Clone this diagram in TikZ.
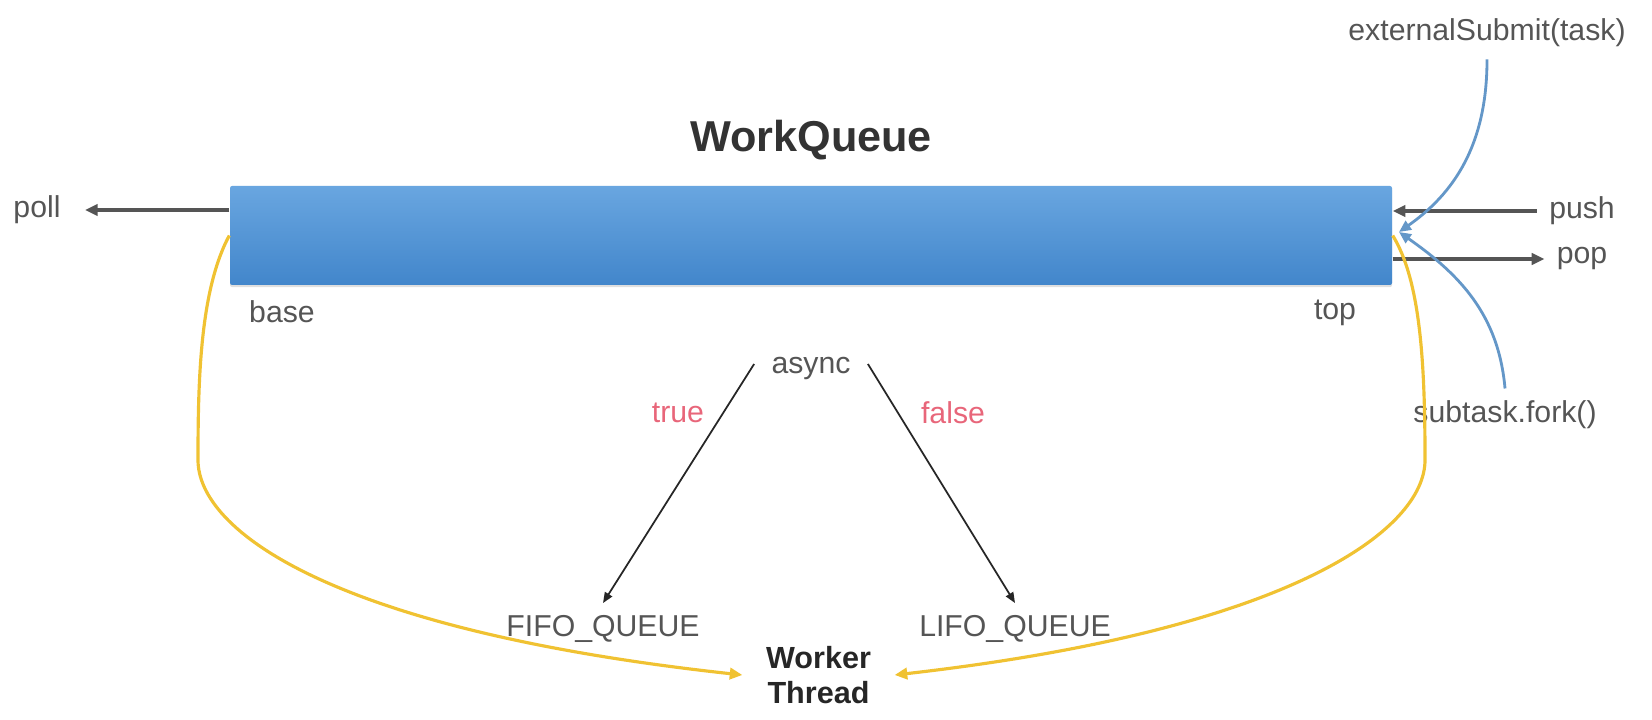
\documentclass[tikz,border=0pt]{standalone}
\usepackage{fontspec}
\setmainfont{Liberation Sans}
\usetikzlibrary{arrows.meta,shadows}

\definecolor{qtop}{HTML}{69A6E0}
\definecolor{qbot}{HTML}{4286CB}
\definecolor{lblgray}{HTML}{555555}
\definecolor{callblue}{HTML}{6497C8}
\definecolor{thryellow}{HTML}{F0C232}
\definecolor{flagred}{HTML}{E8667A}

\begin{document}
\begin{tikzpicture}[
		lbl/.style={text=lblgray,font=\fontsize{8.6}{10}\selectfont},
		flag/.style={text=flagred,font=\fontsize{8.6}{10}\selectfont},
		queue/.style={minimum width=11.62cm,minimum height=0.99cm,inner sep=0pt,
			top color=qtop,bottom color=qbot,rounded corners=0.6pt,
			drop shadow={shadow xshift=0pt,shadow yshift=-0.6pt,opacity=0.25}},
		op/.style={-{Triangle[length=3.6pt,width=3.2pt]},line width=0.9pt,color=lblgray},
		branch/.style={-{Triangle[length=3pt,width=2.4pt]},line width=0.5pt,color=black!85},
		call/.style={-{Triangle[length=3.4pt,width=3pt]},line width=0.8pt,color=callblue},
		take/.style={-{Triangle[length=3.6pt,width=3.2pt]},line width=0.9pt,color=thryellow}
	]
	\useasboundingbox (0,0) rectangle (16.52,-7.2);
	% the deque
	\node[queue] (wq) at (8.11,-2.355) {};
	\node[font=\bfseries\fontsize{12.3}{14}\selectfont,text=black!80] (title) at (8.11,-1.40) {WorkQueue};
	\node[lbl] (base) at (2.82,-3.12) {base};
	\node[lbl] (top) at (13.35,-3.13) {top};
	\node[lbl] (poll) at (0.37,-2.10) {poll};
	\node[lbl] (push) at (15.82,-2.11) {push};
	\node[lbl] (pop) at (15.82,-2.59) {pop};
	\node[lbl] (ext) at (14.87,-0.33) {externalSubmit(task)};
	\node[lbl] (fork) at (15.05,-4.15) {subtask.fork()};
	\coordinate (tip) at (13.99,-2.32);
	\draw[op,shorten >=1.2mm] (wq.west |- poll) -- (poll.east);
	\draw[op] (push.west) -- (wq.east |- push);
	\draw[op] (wq.east |- pop) -- (pop.west);
	\draw[call] (ext.south) to[out=-90,in=35] (tip);
	\draw[call] (fork.north) to[out=95,in=-35] (tip);
	% async flag
	\node[lbl] (async) at (8.11,-3.69) {async};
	\node[lbl] (fifo) at (6.03,-6.29) {FIFO\_QUEUE};
	\node[lbl] (lifo) at (10.15,-6.29) {LIFO\_QUEUE};
	\node[flag] (tru) at (6.78,-4.13) {true};
	\node[flag] (fls) at (9.53,-4.13) {false};
	\draw[branch] (async.west) ++(-0.05,0.05) coordinate (aw) (aw) -- (fifo.north);
	\draw[branch] (async.east) ++(0.05,0.05) coordinate (ae) (ae) -- (lifo.north);
	% worker thread
	\node[font=\bfseries\fontsize{8.7}{10}\selectfont,text=black!85,align=center,inner xsep=2.3mm] (wt) at (8.185,-6.75) {Worker\\Thread};
	\draw[take] (wq.west) .. controls (2.0,-2.9) and (1.98,-3.8) .. (1.98,-4.6)
		.. controls (1.98,-5.3) and (3.3,-6.3) .. (wt.west);
	\draw[take] (wq.east) .. controls (14.2,-2.8) and (14.25,-3.6) .. (14.25,-4.6)
		.. controls (14.25,-5.3) and (12.9,-6.3) .. (wt.east);
\end{tikzpicture}
\end{document}
